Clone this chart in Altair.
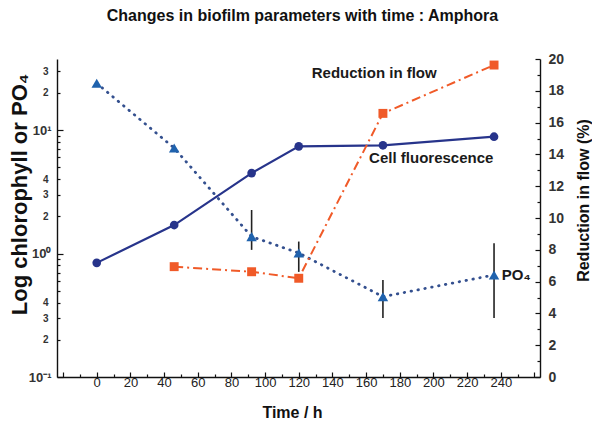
import altair as alt
import pandas as pd

FONT = "Liberation Sans"
NAVY = "#27348b"
TRI = "#1f62ad"
DOTC = "#34508f"
ORANGE = "#f05a28"

# ---- data ----
time_h = [0, 46, 92, 120, 170, 236]
cell_fluorescence = [0.84, 1.70, 4.48, 7.38, 7.52, 8.83]
po4 = [23.9, 7.15, 1.37, 1.01, 0.447, 0.67]

err_time = [92, 120, 170, 236]
err_low = [1.07, 0.71, 0.30, 0.30]
err_high = [2.25, 1.25, 0.61, 1.21]

flow_time = [46, 92, 120, 170, 236]
flow_reduction = [6.94, 6.62, 6.21, 16.58, 19.62]

left_notes = ["Cell fluorescence", "PO\u2084"]
left_note_time = [161.8, 240.6]
left_note_value = [5.9, 0.67]

right_notes = ["Reduction in flow"]
right_note_time = [127.7]
right_note_value = [19.1]

x_tick_values = list(range(-20, 261, 10))
left_tick_values = [0.1, 0.2, 0.3, 0.4, 0.5, 0.6, 0.7, 0.8, 0.9,
                    1, 2, 3, 4, 5, 6, 7, 8, 9, 10, 20, 30]
left_tick_labels = {0.1: "10\u207b\u00b9", 0.2: "2", 0.3: "3", 0.4: "4",
                    1: "10\u2070", 2: "2", 3: "3", 4: "4",
                    10: "10\u00b9", 20: "2", 30: "3"}
right_tick_values = list(range(0, 21))

# ---- tables ----
main_df = pd.DataFrame({"t": time_h, "cell": cell_fluorescence, "po4": po4})
err_df = pd.DataFrame({"t": err_time, "lo": err_low, "hi": err_high})
flow_df = pd.DataFrame({"t": flow_time, "flow": flow_reduction})
lnote_df = pd.DataFrame({"t": left_note_time, "v": left_note_value, "txt": left_notes})
rnote_df = pd.DataFrame({"t": right_note_time, "v": right_note_value, "txt": right_notes})

# ---- scales & axes (ticks point inward, as in the reference) ----
x_scale = alt.Scale(domain=[-23.6, 263.3], nice=False, zero=False)
x_axis = alt.Axis(
    values=x_tick_values,
    labelExpr="datum.value >= 0 && datum.value <= 240 && datum.value % 20 == 0 ? datum.label : ''",
    tickSize={"expr": "datum.value % 20 == 0 ? -5 : -3"},
    labelFontSize=13, labelColor="#222", labelPadding=4,
    title="Time / h", titleFontSize=16, titleFontWeight="bold", titleColor="#111",
    titleX=235, titleY=35, titleAlign="center", titleBaseline="middle",
)

def left_expr():
    parts = []
    for v, s in left_tick_labels.items():
        parts.append(f"datum.value == {v} ? '{s}' : ")
    return "".join(parts) + "''"

decade_test = "datum.value == 0.1 || datum.value == 1 || datum.value == 10"
left_scale = alt.Scale(type="log", domain=[0.1, 37.6], nice=False)
left_axis = alt.Axis(
    values=left_tick_values,
    labelExpr=left_expr(),
    tickSize={"expr": f"({decade_test}) ? -6 : -3"},
    labelFontSize={"condition": {"test": decade_test, "value": 13}, "value": 10},
    labelFontWeight="bold", labelColor="#333", labelPadding=12,
    title="Log chlorophyll or PO\u2084", titleFontSize=22, titleFontWeight="bold",
    titleColor="#111", titleAngle=270, titleX=-38, titleY=135,
    titleAlign="center", titleBaseline="middle",
)

right_scale = alt.Scale(domain=[0, 20], nice=False, zero=True)
right_axis = alt.Axis(
    orient="right",
    values=right_tick_values,
    labelExpr="datum.value % 2 == 0 ? datum.label : ''",
    tickSize={"expr": "datum.value % 2 == 0 ? -5 : -3"},
    labelFontSize=14, labelFontWeight="bold", labelColor="#333", labelPadding=13,
    title="Reduction in flow (%)", titleFontSize=16, titleFontWeight="bold",
    titleColor="#111", titleAngle=270, titleX=43, titleY=141,
    titleAlign="center", titleBaseline="middle",
)

X = alt.X("t:Q", scale=x_scale, axis=x_axis)

def YL(field):
    return alt.Y(f"{field}:Q", scale=left_scale, axis=left_axis)

def YR(field):
    return alt.Y(f"{field}:Q", scale=right_scale, axis=right_axis)

err = alt.Chart(err_df).mark_rule(color="#222", strokeWidth=1.6).encode(
    x=X, y=YL("lo"), y2="hi:Q")
po4_line = alt.Chart(main_df).mark_line(
    color=DOTC, strokeWidth=2.8, strokeDash=[0.5, 6.5], strokeCap="round").encode(x=X, y=YL("po4"))
po4_pts = alt.Chart(main_df).mark_point(
    shape="triangle-up", filled=True, size=110, color=TRI, opacity=1).encode(x=X, y=YL("po4"))
cell_line = alt.Chart(main_df).mark_line(color=NAVY, strokeWidth=2.2).encode(x=X, y=YL("cell"))
cell_pts = alt.Chart(main_df).mark_circle(size=75, color=NAVY, opacity=1).encode(x=X, y=YL("cell"))
lnotes = alt.Chart(lnote_df).mark_text(
    align="left", baseline="middle", font=FONT, fontSize=15, fontWeight="bold", color="#1a1a1a"
).encode(x=X, y=YL("v"), text="txt:N")

left_layer = alt.layer(err, po4_line, po4_pts, cell_line, cell_pts, lnotes)

flow_line = alt.Chart(flow_df).mark_line(
    color=ORANGE, strokeWidth=2, strokeDash=[9, 4, 2, 4]).encode(x=X, y=YR("flow"))
flow_pts = alt.Chart(flow_df).mark_square(size=80, color=ORANGE, opacity=1).encode(x=X, y=YR("flow"))
rnotes = alt.Chart(rnote_df).mark_text(
    align="left", baseline="middle", font=FONT, fontSize=15, fontWeight="bold", color="#1a1a1a"
).encode(x=X, y=YR("v"), text="txt:N")

right_layer = alt.layer(flow_line, flow_pts, rnotes)

chart = alt.layer(left_layer, right_layer).resolve_scale(y="independent").properties(
    width=483, height=318,
    autosize=alt.AutoSizeParams(type="none"),
    padding={"left": 49, "top": 51, "right": 52, "bottom": 42},
    title=alt.TitleParams(
        "Changes in biofilm parameters with time : Amphora",
        font=FONT, fontSize=16, fontWeight="bold", color="#111",
        anchor="middle", offset=28.5, dx=4,
    ),
).configure_view(stroke=None).configure_axis(
    grid=False, domainColor="#111", tickColor="#111", domainWidth=1.4, tickWidth=1.2,
    labelFont=FONT, titleFont=FONT,
)

chart.save("out.html", embed_options={"renderer": "svg", "actions": False})
